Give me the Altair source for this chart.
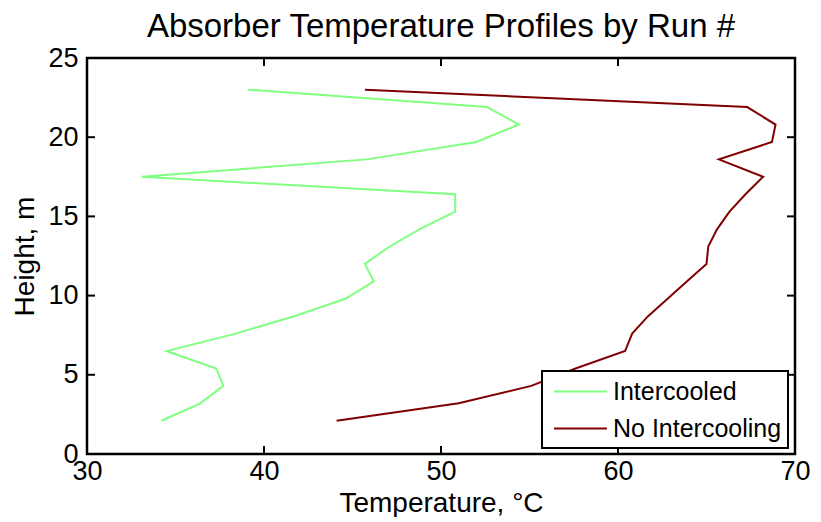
import altair as alt
import pandas as pd

height_m = [2.1, 3.2, 4.3, 5.4, 6.5, 7.6, 8.7, 9.8, 10.9, 12.0,
            13.1, 14.2, 15.3, 16.4, 17.5, 18.6, 19.7, 20.8, 21.9, 23.0]
intercooled = [34.2, 36.4, 37.7, 37.3, 34.5, 38.4, 41.7, 44.6, 46.2, 45.7,
               47.1, 48.8, 50.8, 50.8, 33.1, 45.8, 52.0, 54.4, 52.6, 39.1]
no_intercooling = [44.1, 51.0, 55.1, 57.6, 60.4, 60.8, 61.7, 62.8, 63.9, 65.0,
                   65.1, 65.6, 66.3, 67.2, 68.2, 65.7, 68.7, 68.9, 67.3, 45.7]
series_names = ["Intercooled", "No Intercooling"]
series_colors = ["#80ff80", "#800000"]
x_ticks = [30, 40, 50, 60, 70]
y_ticks = [0, 5, 10, 15, 20, 25]

rows = []
for name, vals in zip(series_names, [intercooled, no_intercooling]):
    for i, (h, t) in enumerate(zip(height_m, vals)):
        rows.append({"series": name, "idx": i, "height": h, "temp": t})
df = pd.DataFrame(rows)
xt = pd.DataFrame({"temp": x_ticks})
yt = pd.DataFrame({"height": y_ticks})

W, H = 708, 396
TL = 8  # inward tick length
FONT = "Liberation Sans"

xscale = alt.Scale(domain=[30, 70], nice=False, zero=False)
yscale = alt.Scale(domain=[0, 25], nice=False, zero=False)
x_axis = alt.Axis(values=x_ticks, title="Temperature, °C", labelFlush=False,
                  labelPadding=4, titlePadding=5)
y_axis = alt.Axis(values=y_ticks, title="Height, m", labelFlush=False,
                  labelPadding=9, titlePadding=8)

lines = alt.Chart(df).mark_line(strokeWidth=2).encode(
    x=alt.X("temp:Q", scale=xscale, axis=x_axis),
    y=alt.Y("height:Q", scale=yscale, axis=y_axis),
    color=alt.Color("series:N",
                    scale=alt.Scale(domain=series_names, range=series_colors),
                    legend=alt.Legend(title=None, orient="none",
                                      legendX=455, legendY=313,
                                      fillColor="white", strokeColor="black",
                                      padding=6,
                                      symbolType="M-2,0H2",
                                      symbolSize=700, symbolStrokeWidth=2,
                                      symbolOffset=18,
                                      labelFontSize=25, labelFont=FONT,
                                      labelColor="black", labelOffset=18,
                                      labelLimit=400, rowPadding=9)),
    order="idx:Q",
)

tick_style = dict(color="black", strokeWidth=2)
x_bottom = alt.Chart(xt).mark_rule(**tick_style).encode(
    x=alt.X("temp:Q", scale=xscale, axis=x_axis),
    y=alt.value(H), y2=alt.value(H - TL))
x_top = alt.Chart(xt).mark_rule(**tick_style).encode(
    x=alt.X("temp:Q", scale=xscale, axis=x_axis),
    y=alt.value(0), y2=alt.value(TL))
y_left = alt.Chart(yt).mark_rule(**tick_style).encode(
    y=alt.Y("height:Q", scale=yscale, axis=y_axis),
    x=alt.value(0), x2=alt.value(TL))
y_right = alt.Chart(yt).mark_rule(**tick_style).encode(
    y=alt.Y("height:Q", scale=yscale, axis=y_axis),
    x=alt.value(W), x2=alt.value(W - TL))

chart = alt.layer(lines, x_bottom, x_top, y_left, y_right).properties(
    width=W, height=H,
    title=alt.Title("Absorber Temperature Profiles by Run #",
                    font=FONT, fontSize=33, fontWeight="normal",
                    color="black", anchor="middle", offset=0),
    padding={"left": 3, "top": 3, "right": 0, "bottom": 0},
).configure_view(
    stroke="black", strokeWidth=2.5
).configure_axis(
    ticks=False, domain=False, grid=False,
    labelFont=FONT, labelFontSize=27, labelColor="black",
    titleFont=FONT, titleFontSize=28, titleFontWeight="normal",
    titleColor="black",
).configure_legend(
    strokeWidth=2
)

chart.save("out.html", embed_options={"renderer": "svg", "actions": False})
